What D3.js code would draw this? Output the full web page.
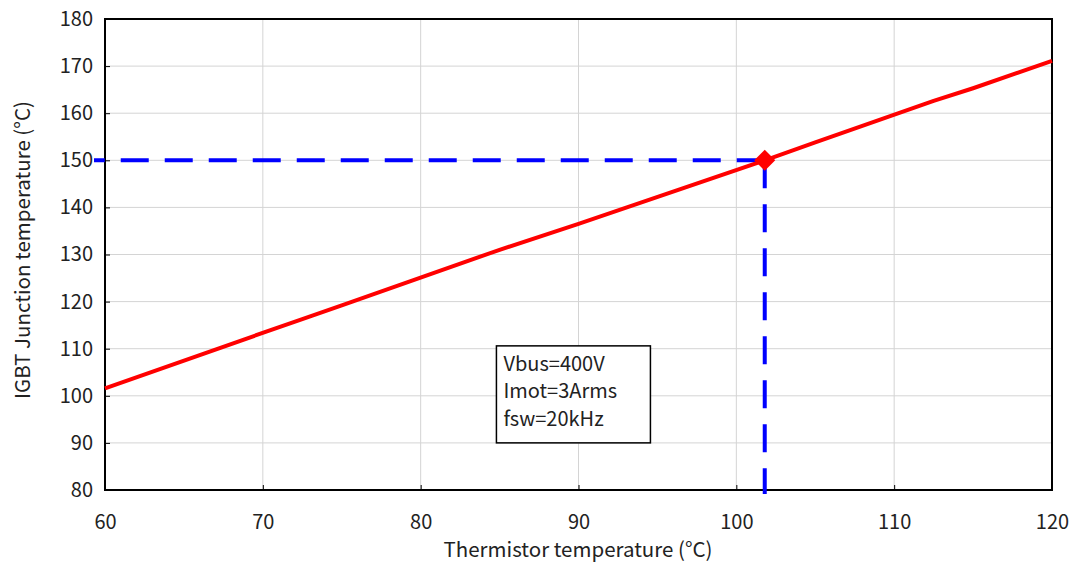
<!DOCTYPE html>
<html>
<head>
<meta charset="utf-8">
<script src="https://cdn.jsdelivr.net/npm/d3@7"></script>
<style>
  body { margin: 0; background: #fff; }
  text { font-family: "Noto Sans CJK JP", "DejaVu Sans", sans-serif; fill: #222; }
</style>
</head>
<body>
<div id="chart"></div>
<script>
// data
var thermistor = [60, 72.5, 75, 85, 90, 101.8, 105, 112.5, 115, 120];
var junction = [101.6, 116.3, 119.2, 131, 136.5, 150, 153.8, 162.6, 165.3, 171.1];
var xTicks = [60, 70, 80, 90, 100, 110, 120];
var yTicks = [80, 90, 100, 110, 120, 130, 140, 150, 160, 170, 180];
var opPoint = {x: 101.8, y: 150};
var noteLines = ["Vbus=400V", "Imot=3Arms", "fsw=20kHz"];

var W = 1076, H = 565;
var margin = {top: 19, right: 24, bottom: 75, left: 105};
var width = W - margin.left - margin.right,
    height = H - margin.top - margin.bottom;

var svg = d3.select("#chart").append("svg").attr("width", W).attr("height", H);
var g = svg.append("g").attr("transform", "translate(" + margin.left + "," + margin.top + ")");

var x = d3.scaleLinear().domain([60, 120]).range([0, width]);
var y = d3.scaleLinear().domain([80, 180]).range([height, 0]);

// gridlines
g.append("g").selectAll("line").data(xTicks.slice(1, -1)).enter().append("line")
    .attr("x1", function(d) { return x(d); }).attr("x2", function(d) { return x(d); })
    .attr("y1", 0).attr("y2", height)
    .attr("stroke", "#d4d4d4").attr("stroke-width", 1);
g.append("g").selectAll("line").data(yTicks.slice(1, -1)).enter().append("line")
    .attr("x1", 0).attr("x2", width)
    .attr("y1", function(d) { return y(d); }).attr("y2", function(d) { return y(d); })
    .attr("stroke", "#d4d4d4").attr("stroke-width", 1);

// axes, ticks pointing inside
var xAxis = g.append("g").attr("transform", "translate(0," + height + ")")
    .call(d3.axisBottom(x).tickValues(xTicks).tickSizeInner(-5).tickSizeOuter(0).tickPadding(25));
var yAxis = g.append("g")
    .call(d3.axisLeft(y).tickValues(yTicks).tickSizeInner(-5).tickSizeOuter(0).tickPadding(12));
[xAxis, yAxis].forEach(function(a) {
    a.select(".domain").remove();
    a.selectAll(".tick line").attr("stroke", "#000");
    a.selectAll(".tick text").style("font-size", "20px").attr("fill", "#222")
        .style("font-family", "'Noto Sans CJK JP', sans-serif");
});

// frame
g.append("rect").attr("width", width).attr("height", height)
    .attr("fill", "none").attr("stroke", "#000").attr("stroke-width", 2);

// axis titles
svg.append("text")
    .attr("x", 578).attr("y", 557)
    .attr("text-anchor", "middle").style("font-size", "20.5px")
    .text("Thermistor temperature (°C)");
svg.append("text")
    .attr("transform", "translate(30,250) rotate(-90)")
    .attr("text-anchor", "middle").style("font-size", "20.5px")
    .text("IGBT Junction temperature (°C)");

// blue dashed guide lines
g.append("line")
    .attr("x1", x(opPoint.x)).attr("x2", -11)
    .attr("y1", y(opPoint.y)).attr("y2", y(opPoint.y))
    .attr("stroke", "#0000ff").attr("stroke-width", 4).attr("stroke-dasharray", "28,16");
g.append("line")
    .attr("x1", x(opPoint.x)).attr("x2", x(opPoint.x))
    .attr("y1", y(opPoint.y)).attr("y2", height + 4)
    .attr("stroke", "#0000ff").attr("stroke-width", 4).attr("stroke-dasharray", "28,16");

// red curve
var line = d3.line()
    .x(function(d, i) { return x(thermistor[i]); })
    .y(function(d) { return y(d); });
g.append("path").datum(junction)
    .attr("fill", "none").attr("stroke", "#ff0000").attr("stroke-width", 4)
    .attr("stroke-linejoin", "round").attr("d", line);

// operating point marker
g.append("path")
    .attr("transform", "translate(" + x(opPoint.x) + "," + y(opPoint.y) + ") rotate(45)")
    .attr("d", d3.symbol().type(d3.symbolSquare).size(220))
    .attr("fill", "#ff0000");

// note box
var note = g.append("g").attr("transform", "translate(" + (x(84.8)) + "," + (y(110.6)) + ")");
note.append("rect").attr("width", 154).attr("height", 97)
    .attr("fill", "#fff").attr("stroke", "#000").attr("stroke-width", 1.5);
note.selectAll("text").data(noteLines).enter().append("text")
    .attr("x", 7).attr("y", function(d, i) { return 25 + i * 27.5; })
    .style("font-size", "20px")
    .text(function(d) { return d; });
</script>
</body>
</html>
